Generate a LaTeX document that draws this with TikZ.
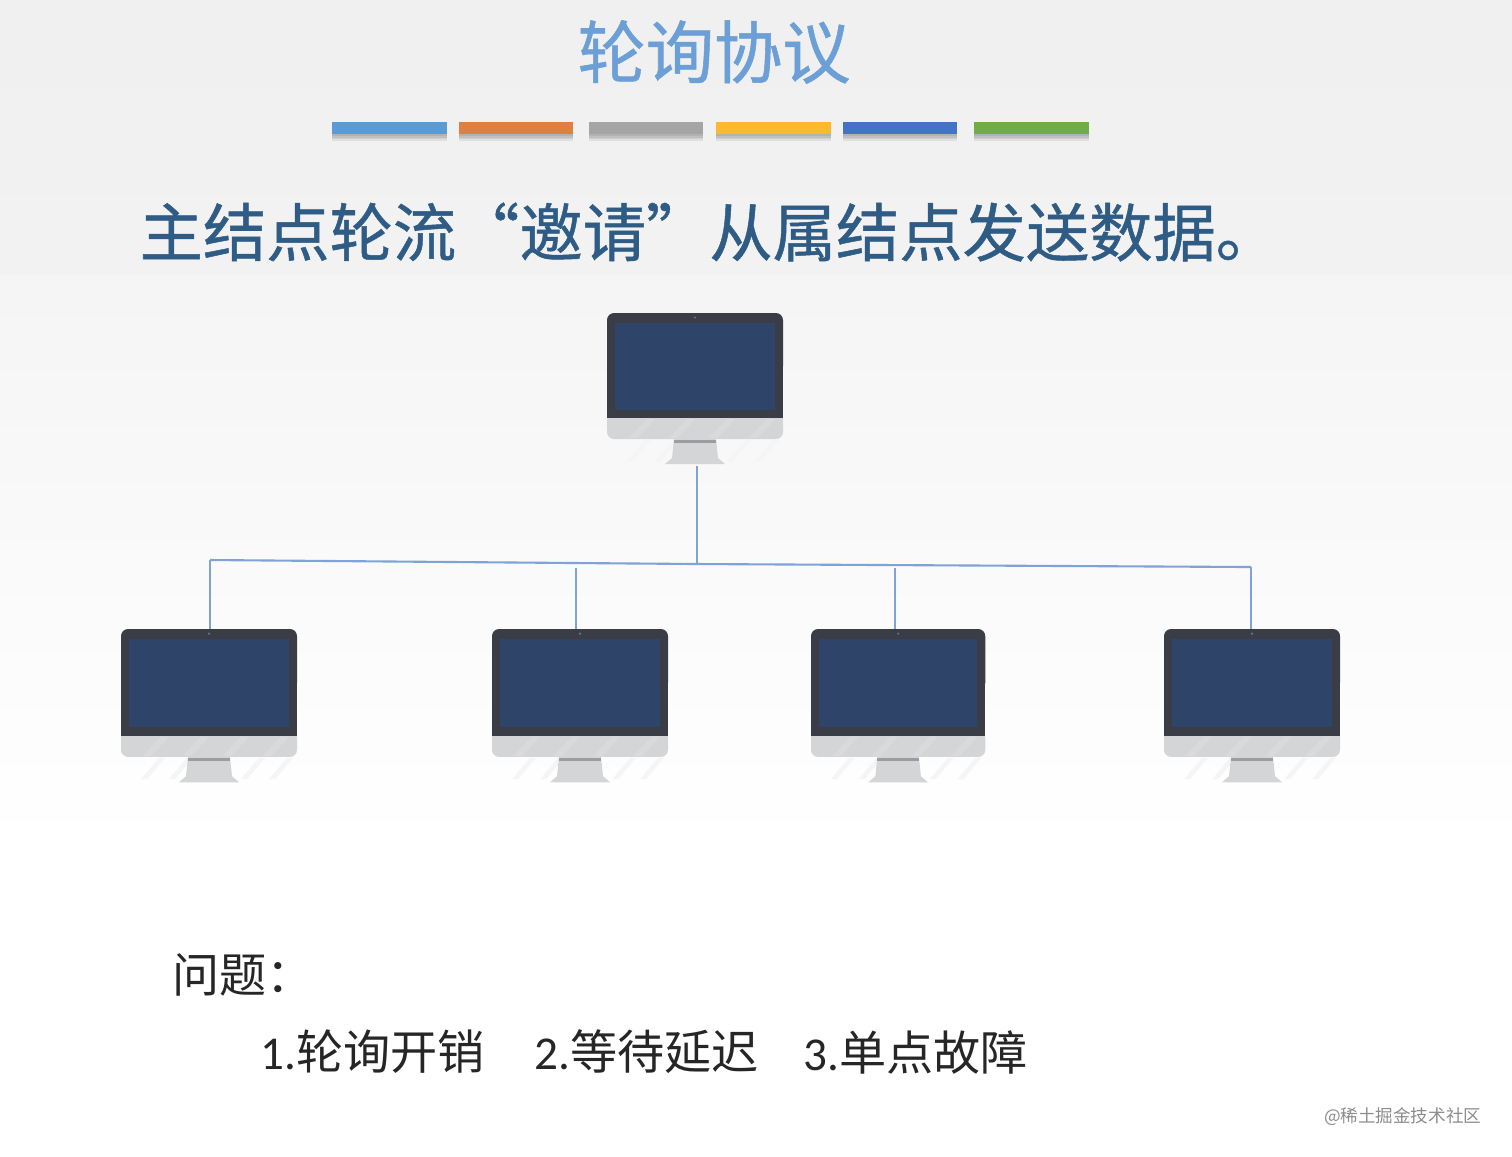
\documentclass[tikz,border=0pt]{standalone}
\usepackage{fontspec}
\setmainfont{Noto Sans CJK SC}
\newfontfamily\latinfont{Carlito}
\newfontfamily\thickfont[FakeBold=0.8]{Noto Sans CJK SC}
\usetikzlibrary{shadows}

\definecolor{titleblue}{HTML}{6C9FD6}
\definecolor{headblue}{HTML}{2F5C85}
\definecolor{busblue}{HTML}{7FA3D6}
\definecolor{caseDark}{HTML}{3A3D45}
\definecolor{screenBlue}{HTML}{2E4468}
\definecolor{chinGray}{HTML}{D4D5D7}
\definecolor{stripGray}{HTML}{9C9DA0}
\definecolor{barA}{HTML}{5B9BD5}
\definecolor{barB}{HTML}{E08040}
\definecolor{barC}{HTML}{A5A5A5}
\definecolor{barD}{HTML}{FBB92E}
\definecolor{barE}{HTML}{4472C4}
\definecolor{barF}{HTML}{70AD47}

\tikzset{
    softshadow/.style={drop shadow={shadow xshift=0pt, shadow yshift=#1, fill=black, opacity=0.07}},
    colorbar/.style={draw=none, minimum height=0.12cm, inner sep=0, softshadow=-0.5pt, softshadow=-1pt, softshadow=-1.5pt, softshadow=-2pt},
    bus/.style={draw=busblue, line width=0.6pt},
    note/.style={anchor=west, inner sep=0, font=\fontsize{13.4}{16}\selectfont, text=black!85},
    monitor/.pic={
        % stand and reflection
        \foreach \i in {0, 28, 56, 100, 128} {
            \fill[black!4] (20+\i, 148) -- (26+\i, 148) -- (44+\i, 127) -- (38+\i, 127) -- cycle;
        }
        \fill[chinGray] (67, 126) -- (109, 126) -- (111, 145) -- (118, 151) -- (58, 151) -- (65, 145) -- cycle;
        \fill[stripGray] (67, 127) rectangle (109, 130);
        % body
        \fill[chinGray, rounded corners=2pt] (0, 100) rectangle (176, 126);
        \foreach \i in {0, 40, 80, 120} {
            \fill[white, opacity=0.14] (22+\i, 125) -- (30+\i, 125) -- (48+\i, 106) -- (40+\i, 106) -- cycle;
        }
        \fill[caseDark, rounded corners=2pt] (0, 0) rectangle (176, 60);
        \fill[caseDark] (0, 30) rectangle (176, 105);
        \fill[screenBlue] (8, 10) rectangle (168, 97);
        \fill[black!55] (88, 4.5) circle (0.012cm);
        \node[minimum width=1.76cm, minimum height=1.52cm, inner sep=0] (-unit) at (88, 76) {};
    }
}

\begin{document}
\begin{tikzpicture}[x=0.01cm, y=-0.01cm]
    \useasboundingbox (0, 0) rectangle (1512, 1156);

    % background
    \shade[top color=black!6, bottom color=black!5] (0, 0) rectangle (1512, 275);
    \shade[top color=black!4, bottom color=white] (0, 275) rectangle (1512, 850);

    % heading
    \node[text=titleblue, font=\fontsize{19.4}{22}\selectfont\thickfont, inner sep=0] (title) at (714, 52) {轮询协议};

    \node[colorbar, fill=barA, minimum width=1.15cm, anchor=west] (bar1) at (331, 128) {};
    \node[colorbar, fill=barB, minimum width=1.14cm, anchor=west] (bar2) at (458, 128) {};
    \node[colorbar, fill=barC, minimum width=1.14cm, anchor=west] (bar3) at (588, 128) {};
    \node[colorbar, fill=barD, minimum width=1.15cm, anchor=west] (bar4) at (715, 128) {};
    \node[colorbar, fill=barE, minimum width=1.14cm, anchor=west] (bar5) at (842, 128) {};
    \node[colorbar, fill=barF, minimum width=1.15cm, anchor=west] (bar6) at (973, 128) {};

    \node[anchor=west, inner sep=0, text=headblue, font=\fontsize{18}{20}\selectfont\thickfont] (head) at (139, 232) {主结点轮流“邀请”从属结点发送数据。};

    % monitors
    \pic (M0) at (607, 313) {monitor};
    \pic[yscale=1.015] (M1) at (121, 629) {monitor};
    \pic[yscale=1.015] (M2) at (492, 629) {monitor};
    \pic[xscale=0.99, yscale=1.015] (M3) at (811, 629) {monitor};
    \pic[yscale=1.015] (M4) at (1164, 629) {monitor};

    % bus
    \coordinate (J0) at (697, 564);
    \coordinate (J1) at (210, 560);
    \coordinate (J2) at (576, 568);
    \coordinate (J3) at (895, 568);
    \coordinate (J4) at (1251, 567);

    \draw[bus] (J1) -- (J0) -- (J4);
    \draw[bus] (J0 |- M0-unit.south) -- (J0);
    \draw[bus] (J1) -- (J1 |- M1-unit.north);
    \draw[bus] (J2) -- (J2 |- M2-unit.north);
    \draw[bus] (J3) -- (J3 |- M3-unit.north);
    \draw[bus] (J4) -- (J4 |- M4-unit.north);

    % problems
    \node[note] (q) at (172, 975) {问题：};
    \node[note] (q1) at (260, 1052) {{\latinfont 1.}轮询开销};
    \node[note] (q2) at (534, 1052) {{\latinfont 2.}等待延迟};
    \node[note] (q3) at (803, 1052) {{\latinfont 3.}单点故障};

    \node[anchor=east, inner sep=0, text=black!45, font=\fontsize{5}{6}\selectfont] (mark) at (1482, 1117) {@稀土掘金技术社区};
\end{tikzpicture}
\end{document}
